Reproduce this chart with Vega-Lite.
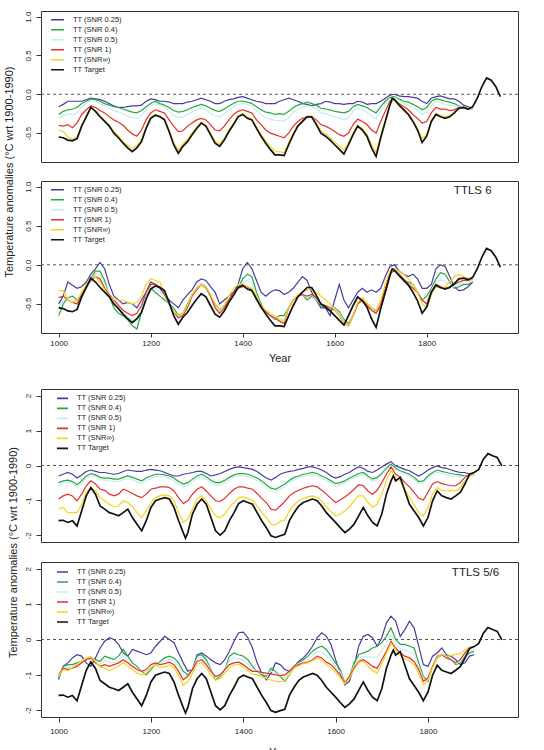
{
"$schema": "https://vega.github.io/schema/vega-lite/v6.json",
"padding": {"left": 2, "top": 10, "right": 2, "bottom": 0},
"datasets": {
"A1": [
{"yr":1000,"a":-0.16,"b":-0.26,"c":-0.30,"d":-0.40,"e":-0.46},
{"yr":1010,"a":-0.13,"b":-0.22,"c":-0.28,"d":-0.41,"e":-0.48},
{"yr":1020,"a":-0.09,"b":-0.20,"c":-0.25,"d":-0.39,"e":-0.55},
{"yr":1030,"a":-0.09,"b":-0.19,"c":-0.26,"d":-0.43,"e":-0.58},
{"yr":1040,"a":-0.09,"b":-0.17,"c":-0.24,"d":-0.37,"e":-0.55},
{"yr":1050,"a":-0.09,"b":-0.12,"c":-0.17,"d":-0.26,"e":-0.40},
{"yr":1060,"a":-0.07,"b":-0.09,"c":-0.12,"d":-0.20,"e":-0.28},
{"yr":1070,"a":-0.05,"b":-0.06,"c":-0.08,"d":-0.15,"e":-0.17},
{"yr":1080,"a":-0.06,"b":-0.07,"c":-0.09,"d":-0.17,"e":-0.21},
{"yr":1090,"a":-0.07,"b":-0.09,"c":-0.12,"d":-0.21,"e":-0.28},
{"yr":1100,"a":-0.09,"b":-0.12,"c":-0.15,"d":-0.24,"e":-0.34},
{"yr":1110,"a":-0.12,"b":-0.14,"c":-0.18,"d":-0.29,"e":-0.40},
{"yr":1120,"a":-0.15,"b":-0.16,"c":-0.21,"d":-0.33,"e":-0.48},
{"yr":1130,"a":-0.17,"b":-0.17,"c":-0.23,"d":-0.36,"e":-0.54},
{"yr":1140,"a":-0.17,"b":-0.19,"c":-0.25,"d":-0.40,"e":-0.61},
{"yr":1150,"a":-0.16,"b":-0.21,"c":-0.28,"d":-0.46,"e":-0.66},
{"yr":1160,"a":-0.15,"b":-0.23,"c":-0.30,"d":-0.51,"e":-0.70},
{"yr":1170,"a":-0.15,"b":-0.24,"c":-0.31,"d":-0.54,"e":-0.66},
{"yr":1180,"a":-0.14,"b":-0.21,"c":-0.27,"d":-0.46,"e":-0.58},
{"yr":1190,"a":-0.09,"b":-0.16,"c":-0.20,"d":-0.33,"e":-0.42},
{"yr":1200,"a":-0.06,"b":-0.12,"c":-0.15,"d":-0.24,"e":-0.30},
{"yr":1210,"a":-0.07,"b":-0.09,"c":-0.12,"d":-0.20,"e":-0.26},
{"yr":1220,"a":-0.09,"b":-0.12,"c":-0.14,"d":-0.22,"e":-0.28},
{"yr":1230,"a":-0.09,"b":-0.14,"c":-0.17,"d":-0.24,"e":-0.32},
{"yr":1240,"a":-0.10,"b":-0.17,"c":-0.22,"d":-0.33,"e":-0.46},
{"yr":1250,"a":-0.12,"b":-0.21,"c":-0.27,"d":-0.41,"e":-0.62},
{"yr":1260,"a":-0.12,"b":-0.23,"c":-0.30,"d":-0.48,"e":-0.72},
{"yr":1270,"a":-0.12,"b":-0.22,"c":-0.29,"d":-0.47,"e":-0.64},
{"yr":1280,"a":-0.10,"b":-0.20,"c":-0.26,"d":-0.41,"e":-0.58},
{"yr":1290,"a":-0.09,"b":-0.17,"c":-0.23,"d":-0.37,"e":-0.50},
{"yr":1300,"a":-0.07,"b":-0.15,"c":-0.20,"d":-0.33,"e":-0.42},
{"yr":1310,"a":-0.05,"b":-0.13,"c":-0.18,"d":-0.31,"e":-0.36},
{"yr":1320,"a":-0.07,"b":-0.15,"c":-0.20,"d":-0.33,"e":-0.40},
{"yr":1330,"a":-0.09,"b":-0.18,"c":-0.24,"d":-0.39,"e":-0.50},
{"yr":1340,"a":-0.12,"b":-0.21,"c":-0.28,"d":-0.46,"e":-0.60},
{"yr":1350,"a":-0.12,"b":-0.22,"c":-0.29,"d":-0.47,"e":-0.64},
{"yr":1360,"a":-0.09,"b":-0.19,"c":-0.25,"d":-0.41,"e":-0.56},
{"yr":1370,"a":-0.07,"b":-0.15,"c":-0.20,"d":-0.33,"e":-0.46},
{"yr":1380,"a":-0.06,"b":-0.12,"c":-0.16,"d":-0.26,"e":-0.37},
{"yr":1390,"a":-0.04,"b":-0.09,"c":-0.13,"d":-0.22,"e":-0.28},
{"yr":1400,"a":-0.03,"b":-0.09,"c":-0.12,"d":-0.20,"e":-0.25},
{"yr":1410,"a":-0.05,"b":-0.10,"c":-0.13,"d":-0.22,"e":-0.29},
{"yr":1420,"a":-0.07,"b":-0.12,"c":-0.15,"d":-0.24,"e":-0.32},
{"yr":1430,"a":-0.09,"b":-0.16,"c":-0.21,"d":-0.33,"e":-0.42},
{"yr":1440,"a":-0.10,"b":-0.20,"c":-0.26,"d":-0.39,"e":-0.52},
{"yr":1450,"a":-0.12,"b":-0.23,"c":-0.30,"d":-0.46,"e":-0.60},
{"yr":1460,"a":-0.12,"b":-0.24,"c":-0.32,"d":-0.50,"e":-0.67},
{"yr":1470,"a":-0.12,"b":-0.26,"c":-0.34,"d":-0.52,"e":-0.73},
{"yr":1480,"a":-0.09,"b":-0.25,"c":-0.34,"d":-0.54,"e":-0.74},
{"yr":1490,"a":-0.07,"b":-0.26,"c":-0.35,"d":-0.56,"e":-0.75},
{"yr":1500,"a":-0.05,"b":-0.22,"c":-0.30,"d":-0.50,"e":-0.62},
{"yr":1510,"a":-0.07,"b":-0.17,"c":-0.23,"d":-0.41,"e":-0.50},
{"yr":1520,"a":-0.09,"b":-0.14,"c":-0.19,"d":-0.35,"e":-0.40},
{"yr":1530,"a":-0.12,"b":-0.12,"c":-0.17,"d":-0.31,"e":-0.34},
{"yr":1540,"a":-0.13,"b":-0.10,"c":-0.15,"d":-0.29,"e":-0.28},
{"yr":1550,"a":-0.15,"b":-0.12,"c":-0.16,"d":-0.29,"e":-0.28},
{"yr":1560,"a":-0.13,"b":-0.14,"c":-0.19,"d":-0.33,"e":-0.37},
{"yr":1570,"a":-0.12,"b":-0.18,"c":-0.24,"d":-0.39,"e":-0.47},
{"yr":1580,"a":-0.09,"b":-0.19,"c":-0.25,"d":-0.41,"e":-0.51},
{"yr":1590,"a":-0.10,"b":-0.20,"c":-0.27,"d":-0.44,"e":-0.56},
{"yr":1600,"a":-0.12,"b":-0.22,"c":-0.29,"d":-0.48,"e":-0.61},
{"yr":1610,"a":-0.12,"b":-0.23,"c":-0.31,"d":-0.52,"e":-0.67},
{"yr":1620,"a":-0.13,"b":-0.24,"c":-0.33,"d":-0.54,"e":-0.72},
{"yr":1630,"a":-0.12,"b":-0.22,"c":-0.30,"d":-0.50,"e":-0.62},
{"yr":1640,"a":-0.12,"b":-0.16,"c":-0.22,"d":-0.39,"e":-0.50},
{"yr":1650,"a":-0.09,"b":-0.13,"c":-0.18,"d":-0.32,"e":-0.40},
{"yr":1660,"a":-0.10,"b":-0.15,"c":-0.20,"d":-0.35,"e":-0.44},
{"yr":1670,"a":-0.13,"b":-0.17,"c":-0.23,"d":-0.39,"e":-0.52},
{"yr":1680,"a":-0.12,"b":-0.21,"c":-0.28,"d":-0.46,"e":-0.65},
{"yr":1690,"a":-0.12,"b":-0.24,"c":-0.32,"d":-0.50,"e":-0.74},
{"yr":1700,"a":-0.09,"b":-0.16,"c":-0.22,"d":-0.35,"e":-0.53},
{"yr":1710,"a":-0.05,"b":-0.09,"c":-0.13,"d":-0.22,"e":-0.33},
{"yr":1720,"a":-0.01,"b":-0.04,"c":-0.06,"d":-0.09,"e":-0.13},
{"yr":1730,"a":0.00,"b":-0.03,"c":-0.04,"d":-0.07,"e":-0.06},
{"yr":1740,"a":-0.02,"b":-0.06,"c":-0.08,"d":-0.12,"e":-0.13},
{"yr":1750,"a":-0.03,"b":-0.09,"c":-0.12,"d":-0.16,"e":-0.19},
{"yr":1760,"a":-0.03,"b":-0.10,"c":-0.14,"d":-0.20,"e":-0.25},
{"yr":1770,"a":-0.04,"b":-0.13,"c":-0.18,"d":-0.26,"e":-0.34},
{"yr":1780,"a":-0.05,"b":-0.16,"c":-0.21,"d":-0.31,"e":-0.44},
{"yr":1790,"a":-0.09,"b":-0.20,"c":-0.26,"d":-0.37,"e":-0.57},
{"yr":1800,"a":-0.12,"b":-0.17,"c":-0.23,"d":-0.35,"e":-0.52},
{"yr":1810,"a":-0.05,"b":-0.09,"c":-0.14,"d":-0.24,"e":-0.34},
{"yr":1820,"a":-0.03,"b":-0.06,"c":-0.09,"d":-0.17,"e":-0.25},
{"yr":1830,"a":-0.02,"b":-0.07,"c":-0.11,"d":-0.19,"e":-0.27},
{"yr":1840,"a":-0.04,"b":-0.09,"c":-0.13,"d":-0.19,"e":-0.29},
{"yr":1850,"a":-0.06,"b":-0.10,"c":-0.14,"d":-0.21,"e":-0.27},
{"yr":1860,"a":-0.06,"b":-0.12,"c":-0.15,"d":-0.20,"e":-0.23},
{"yr":1870,"a":-0.09,"b":-0.15,"c":-0.16,"d":-0.17,"e":-0.18},
{"yr":1880,"a":-0.14,"b":-0.17,"c":-0.17,"d":-0.18,"e":-0.17},
{"yr":1890,"a":-0.16,"b":-0.19,"c":-0.19,"d":-0.19,"e":-0.19},
{"yr":1900,"a":-0.18,"b":-0.19,"c":-0.19,"d":-0.17,"e":-0.17}
],
"A2": [
{"yr":1000,"a":-0.50,"b":-0.65,"c":-0.55,"d":-0.42,"e":-0.33},
{"yr":1010,"a":-0.40,"b":-0.50,"c":-0.45,"d":-0.40,"e":-0.33},
{"yr":1020,"a":-0.22,"b":-0.42,"c":-0.43,"d":-0.45,"e":-0.45},
{"yr":1030,"a":-0.26,"b":-0.40,"c":-0.44,"d":-0.48,"e":-0.48},
{"yr":1040,"a":-0.30,"b":-0.45,"c":-0.47,"d":-0.50,"e":-0.45},
{"yr":1050,"a":-0.28,"b":-0.40,"c":-0.39,"d":-0.38,"e":-0.35},
{"yr":1060,"a":-0.22,"b":-0.30,"c":-0.29,"d":-0.28,"e":-0.25},
{"yr":1070,"a":-0.12,"b":-0.18,"c":-0.19,"d":-0.20,"e":-0.18},
{"yr":1080,"a":-0.05,"b":-0.08,"c":-0.12,"d":-0.15,"e":-0.15},
{"yr":1090,"a":0.03,"b":-0.08,"c":-0.13,"d":-0.18,"e":-0.22},
{"yr":1100,"a":-0.05,"b":-0.20,"c":-0.25,"d":-0.30,"e":-0.32},
{"yr":1110,"a":-0.25,"b":-0.40,"c":-0.39,"d":-0.38,"e":-0.40},
{"yr":1120,"a":-0.40,"b":-0.55,"c":-0.50,"d":-0.45,"e":-0.45},
{"yr":1130,"a":-0.45,"b":-0.62,"c":-0.57,"d":-0.52,"e":-0.45},
{"yr":1140,"a":-0.50,"b":-0.65,"c":-0.61,"d":-0.58,"e":-0.45},
{"yr":1150,"a":-0.48,"b":-0.70,"c":-0.66,"d":-0.62,"e":-0.48},
{"yr":1160,"a":-0.50,"b":-0.78,"c":-0.71,"d":-0.65,"e":-0.50},
{"yr":1170,"a":-0.55,"b":-0.82,"c":-0.72,"d":-0.62,"e":-0.48},
{"yr":1180,"a":-0.45,"b":-0.60,"c":-0.56,"d":-0.52,"e":-0.40},
{"yr":1190,"a":-0.35,"b":-0.40,"c":-0.38,"d":-0.35,"e":-0.25},
{"yr":1200,"a":-0.22,"b":-0.30,"c":-0.28,"d":-0.25,"e":-0.18},
{"yr":1210,"a":-0.25,"b":-0.35,"c":-0.30,"d":-0.25,"e":-0.20},
{"yr":1220,"a":-0.30,"b":-0.40,"c":-0.34,"d":-0.28,"e":-0.22},
{"yr":1230,"a":-0.38,"b":-0.45,"c":-0.42,"d":-0.38,"e":-0.35},
{"yr":1240,"a":-0.45,"b":-0.50,"c":-0.50,"d":-0.50,"e":-0.50},
{"yr":1250,"a":-0.50,"b":-0.55,"c":-0.58,"d":-0.60,"e":-0.60},
{"yr":1260,"a":-0.55,"b":-0.65,"c":-0.67,"d":-0.68,"e":-0.65},
{"yr":1270,"a":-0.45,"b":-0.62,"c":-0.64,"d":-0.65,"e":-0.62},
{"yr":1280,"a":-0.38,"b":-0.50,"c":-0.53,"d":-0.55,"e":-0.52},
{"yr":1290,"a":-0.32,"b":-0.38,"c":-0.39,"d":-0.40,"e":-0.38},
{"yr":1300,"a":-0.22,"b":-0.30,"c":-0.31,"d":-0.32,"e":-0.30},
{"yr":1310,"a":-0.18,"b":-0.25,"c":-0.25,"d":-0.25,"e":-0.25},
{"yr":1320,"a":-0.20,"b":-0.30,"c":-0.29,"d":-0.28,"e":-0.28},
{"yr":1330,"a":-0.28,"b":-0.40,"c":-0.40,"d":-0.40,"e":-0.38},
{"yr":1340,"a":-0.35,"b":-0.50,"c":-0.53,"d":-0.55,"e":-0.50},
{"yr":1350,"a":-0.50,"b":-0.58,"c":-0.60,"d":-0.62,"e":-0.58},
{"yr":1360,"a":-0.45,"b":-0.52,"c":-0.54,"d":-0.55,"e":-0.52},
{"yr":1370,"a":-0.40,"b":-0.45,"c":-0.45,"d":-0.45,"e":-0.40},
{"yr":1380,"a":-0.35,"b":-0.38,"c":-0.37,"d":-0.35,"e":-0.30},
{"yr":1390,"a":-0.25,"b":-0.30,"c":-0.30,"d":-0.30,"e":-0.25},
{"yr":1400,"a":-0.05,"b":-0.18,"c":-0.23,"d":-0.28,"e":-0.25},
{"yr":1410,"a":0.03,"b":-0.12,"c":-0.20,"d":-0.28,"e":-0.28},
{"yr":1420,"a":-0.05,"b":-0.15,"c":-0.24,"d":-0.32,"e":-0.30},
{"yr":1430,"a":-0.20,"b":-0.35,"c":-0.39,"d":-0.42,"e":-0.40},
{"yr":1440,"a":-0.35,"b":-0.50,"c":-0.53,"d":-0.55,"e":-0.52},
{"yr":1450,"a":-0.40,"b":-0.60,"c":-0.60,"d":-0.60,"e":-0.58},
{"yr":1460,"a":-0.35,"b":-0.65,"c":-0.65,"d":-0.65,"e":-0.62},
{"yr":1470,"a":-0.32,"b":-0.70,"c":-0.69,"d":-0.68,"e":-0.65},
{"yr":1480,"a":-0.33,"b":-0.65,"c":-0.69,"d":-0.72,"e":-0.70},
{"yr":1490,"a":-0.38,"b":-0.65,"c":-0.70,"d":-0.75,"e":-0.72},
{"yr":1500,"a":-0.35,"b":-0.55,"c":-0.55,"d":-0.55,"e":-0.55},
{"yr":1510,"a":-0.30,"b":-0.45,"c":-0.45,"d":-0.45,"e":-0.45},
{"yr":1520,"a":-0.22,"b":-0.40,"c":-0.40,"d":-0.40,"e":-0.38},
{"yr":1530,"a":-0.15,"b":-0.38,"c":-0.38,"d":-0.38,"e":-0.35},
{"yr":1540,"a":-0.20,"b":-0.45,"c":-0.42,"d":-0.40,"e":-0.32},
{"yr":1550,"a":-0.35,"b":-0.40,"c":-0.39,"d":-0.38,"e":-0.30},
{"yr":1560,"a":-0.45,"b":-0.45,"c":-0.44,"d":-0.42,"e":-0.35},
{"yr":1570,"a":-0.55,"b":-0.52,"c":-0.51,"d":-0.50,"e":-0.40},
{"yr":1580,"a":-0.55,"b":-0.55,"c":-0.53,"d":-0.52,"e":-0.45},
{"yr":1590,"a":-0.65,"b":-0.58,"c":-0.56,"d":-0.55,"e":-0.50},
{"yr":1600,"a":-0.45,"b":-0.55,"c":-0.56,"d":-0.58,"e":-0.58},
{"yr":1610,"a":-0.25,"b":-0.60,"c":-0.62,"d":-0.65,"e":-0.65},
{"yr":1620,"a":-0.45,"b":-0.70,"c":-0.72,"d":-0.75,"e":-0.75},
{"yr":1630,"a":-0.55,"b":-0.75,"c":-0.77,"d":-0.78,"e":-0.78},
{"yr":1640,"a":-0.45,"b":-0.65,"c":-0.65,"d":-0.65,"e":-0.65},
{"yr":1650,"a":-0.35,"b":-0.50,"c":-0.50,"d":-0.50,"e":-0.48},
{"yr":1660,"a":-0.30,"b":-0.45,"c":-0.45,"d":-0.45,"e":-0.42},
{"yr":1670,"a":-0.35,"b":-0.50,"c":-0.51,"d":-0.52,"e":-0.48},
{"yr":1680,"a":-0.32,"b":-0.55,"c":-0.56,"d":-0.58,"e":-0.55},
{"yr":1690,"a":-0.35,"b":-0.60,"c":-0.61,"d":-0.62,"e":-0.58},
{"yr":1700,"a":-0.30,"b":-0.55,"c":-0.52,"d":-0.50,"e":-0.45},
{"yr":1710,"a":-0.15,"b":-0.35,"c":-0.32,"d":-0.30,"e":-0.25},
{"yr":1720,"a":-0.02,"b":-0.12,"c":-0.11,"d":-0.10,"e":-0.08},
{"yr":1730,"a":0.00,"b":-0.05,"c":-0.06,"d":-0.08,"e":-0.05},
{"yr":1740,"a":-0.08,"b":-0.12,"c":-0.12,"d":-0.12,"e":-0.08},
{"yr":1750,"a":-0.12,"b":-0.20,"c":-0.19,"d":-0.18,"e":-0.12},
{"yr":1760,"a":-0.15,"b":-0.22,"c":-0.24,"d":-0.25,"e":-0.18},
{"yr":1770,"a":-0.12,"b":-0.25,"c":-0.28,"d":-0.30,"e":-0.25},
{"yr":1780,"a":-0.18,"b":-0.35,"c":-0.35,"d":-0.35,"e":-0.35},
{"yr":1790,"a":-0.30,"b":-0.45,"c":-0.45,"d":-0.45,"e":-0.50},
{"yr":1800,"a":-0.30,"b":-0.40,"c":-0.45,"d":-0.50,"e":-0.55},
{"yr":1810,"a":-0.25,"b":-0.30,"c":-0.33,"d":-0.35,"e":-0.38},
{"yr":1820,"a":-0.05,"b":-0.18,"c":-0.22,"d":-0.25,"e":-0.28},
{"yr":1830,"a":0.00,"b":-0.10,"c":-0.19,"d":-0.28,"e":-0.30},
{"yr":1840,"a":-0.02,"b":-0.12,"c":-0.21,"d":-0.30,"e":-0.28},
{"yr":1850,"a":-0.15,"b":-0.22,"c":-0.25,"d":-0.28,"e":-0.22},
{"yr":1860,"a":-0.28,"b":-0.30,"c":-0.28,"d":-0.25,"e":-0.15},
{"yr":1870,"a":-0.33,"b":-0.28,"c":-0.25,"d":-0.22,"e":-0.12},
{"yr":1880,"a":-0.32,"b":-0.25,"c":-0.22,"d":-0.20,"e":-0.15},
{"yr":1890,"a":-0.28,"b":-0.25,"c":-0.22,"d":-0.20,"e":-0.18},
{"yr":1900,"a":-0.22,"b":-0.22,"c":-0.20,"d":-0.18,"e":-0.18}
],
"B1": [
{"yr":1000,"a":-0.30,"b":-0.49,"c":-0.55,"d":-0.96,"e":-1.25},
{"yr":1010,"a":-0.25,"b":-0.44,"c":-0.50,"d":-0.87,"e":-1.20},
{"yr":1020,"a":-0.20,"b":-0.42,"c":-0.48,"d":-0.82,"e":-1.35},
{"yr":1030,"a":-0.25,"b":-0.46,"c":-0.52,"d":-0.87,"e":-1.35},
{"yr":1040,"a":-0.36,"b":-0.55,"c":-0.62,"d":-1.01,"e":-1.35},
{"yr":1050,"a":-0.27,"b":-0.44,"c":-0.50,"d":-0.82,"e":-1.11},
{"yr":1060,"a":-0.17,"b":-0.30,"c":-0.36,"d":-0.58,"e":-0.77},
{"yr":1070,"a":-0.13,"b":-0.23,"c":-0.28,"d":-0.44,"e":-0.63},
{"yr":1080,"a":-0.17,"b":-0.27,"c":-0.32,"d":-0.53,"e":-0.73},
{"yr":1090,"a":-0.20,"b":-0.34,"c":-0.40,"d":-0.68,"e":-0.92},
{"yr":1100,"a":-0.20,"b":-0.36,"c":-0.42,"d":-0.71,"e":-1.01},
{"yr":1110,"a":-0.23,"b":-0.36,"c":-0.44,"d":-0.82,"e":-1.11},
{"yr":1120,"a":-0.25,"b":-0.39,"c":-0.46,"d":-0.87,"e":-1.18},
{"yr":1130,"a":-0.23,"b":-0.39,"c":-0.45,"d":-0.82,"e":-1.16},
{"yr":1140,"a":-0.17,"b":-0.34,"c":-0.40,"d":-0.68,"e":-1.01},
{"yr":1150,"a":-0.13,"b":-0.30,"c":-0.37,"d":-0.73,"e":-1.06},
{"yr":1160,"a":-0.15,"b":-0.34,"c":-0.41,"d":-0.80,"e":-1.18},
{"yr":1170,"a":-0.17,"b":-0.39,"c":-0.46,"d":-0.87,"e":-1.35},
{"yr":1180,"a":-0.17,"b":-0.44,"c":-0.51,"d":-0.92,"e":-1.49},
{"yr":1190,"a":-0.13,"b":-0.36,"c":-0.43,"d":-0.82,"e":-1.30},
{"yr":1200,"a":-0.11,"b":-0.30,"c":-0.37,"d":-0.68,"e":-1.06},
{"yr":1210,"a":-0.13,"b":-0.25,"c":-0.32,"d":-0.65,"e":-0.92},
{"yr":1220,"a":-0.15,"b":-0.25,"c":-0.31,"d":-0.61,"e":-0.87},
{"yr":1230,"a":-0.20,"b":-0.27,"c":-0.33,"d":-0.61,"e":-0.84},
{"yr":1240,"a":-0.25,"b":-0.30,"c":-0.37,"d":-0.63,"e":-0.87},
{"yr":1250,"a":-0.30,"b":-0.36,"c":-0.43,"d":-0.73,"e":-1.01},
{"yr":1260,"a":-0.30,"b":-0.46,"c":-0.53,"d":-0.92,"e":-1.35},
{"yr":1270,"a":-0.25,"b":-0.53,"c":-0.61,"d":-1.09,"e":-1.63},
{"yr":1280,"a":-0.23,"b":-0.49,"c":-0.57,"d":-1.01,"e":-1.54},
{"yr":1290,"a":-0.20,"b":-0.39,"c":-0.46,"d":-0.82,"e":-1.25},
{"yr":1300,"a":-0.17,"b":-0.30,"c":-0.36,"d":-0.68,"e":-0.96},
{"yr":1310,"a":-0.17,"b":-0.25,"c":-0.31,"d":-0.61,"e":-0.87},
{"yr":1320,"a":-0.23,"b":-0.32,"c":-0.39,"d":-0.73,"e":-1.01},
{"yr":1330,"a":-0.30,"b":-0.42,"c":-0.49,"d":-0.87,"e":-1.25},
{"yr":1340,"a":-0.27,"b":-0.49,"c":-0.57,"d":-1.01,"e":-1.44},
{"yr":1350,"a":-0.23,"b":-0.49,"c":-0.57,"d":-1.03,"e":-1.49},
{"yr":1360,"a":-0.17,"b":-0.42,"c":-0.49,"d":-0.94,"e":-1.39},
{"yr":1370,"a":-0.11,"b":-0.34,"c":-0.41,"d":-0.80,"e":-1.20},
{"yr":1380,"a":-0.06,"b":-0.27,"c":-0.33,"d":-0.68,"e":-1.06},
{"yr":1390,"a":-0.04,"b":-0.23,"c":-0.29,"d":-0.61,"e":-0.92},
{"yr":1400,"a":-0.06,"b":-0.23,"c":-0.29,"d":-0.61,"e":-0.90},
{"yr":1410,"a":-0.08,"b":-0.25,"c":-0.31,"d":-0.65,"e":-0.94},
{"yr":1420,"a":-0.11,"b":-0.30,"c":-0.36,"d":-0.68,"e":-0.99},
{"yr":1430,"a":-0.17,"b":-0.36,"c":-0.43,"d":-0.80,"e":-1.16},
{"yr":1440,"a":-0.27,"b":-0.44,"c":-0.51,"d":-0.94,"e":-1.35},
{"yr":1450,"a":-0.36,"b":-0.55,"c":-0.62,"d":-1.06,"e":-1.49},
{"yr":1460,"a":-0.42,"b":-0.65,"c":-0.73,"d":-1.25,"e":-1.68},
{"yr":1470,"a":-0.34,"b":-0.68,"c":-0.76,"d":-1.28,"e":-1.70},
{"yr":1480,"a":-0.25,"b":-0.61,"c":-0.69,"d":-1.16,"e":-1.60},
{"yr":1490,"a":-0.20,"b":-0.53,"c":-0.60,"d":-1.03,"e":-1.56},
{"yr":1500,"a":-0.17,"b":-0.42,"c":-0.49,"d":-0.87,"e":-1.30},
{"yr":1510,"a":-0.15,"b":-0.34,"c":-0.41,"d":-0.77,"e":-1.13},
{"yr":1520,"a":-0.11,"b":-0.30,"c":-0.36,"d":-0.71,"e":-1.01},
{"yr":1530,"a":-0.08,"b":-0.25,"c":-0.31,"d":-0.65,"e":-0.94},
{"yr":1540,"a":-0.04,"b":-0.23,"c":-0.29,"d":-0.61,"e":-0.90},
{"yr":1550,"a":-0.04,"b":-0.20,"c":-0.26,"d":-0.58,"e":-0.87},
{"yr":1560,"a":-0.08,"b":-0.23,"c":-0.29,"d":-0.61,"e":-0.92},
{"yr":1570,"a":-0.13,"b":-0.30,"c":-0.36,"d":-0.71,"e":-1.03},
{"yr":1580,"a":-0.20,"b":-0.36,"c":-0.43,"d":-0.82,"e":-1.18},
{"yr":1590,"a":-0.30,"b":-0.44,"c":-0.51,"d":-0.94,"e":-1.32},
{"yr":1600,"a":-0.36,"b":-0.52,"c":-0.59,"d":-1.06,"e":-1.44},
{"yr":1610,"a":-0.32,"b":-0.49,"c":-0.56,"d":-0.99,"e":-1.39},
{"yr":1620,"a":-0.25,"b":-0.44,"c":-0.51,"d":-0.90,"e":-1.30},
{"yr":1630,"a":-0.20,"b":-0.36,"c":-0.43,"d":-0.80,"e":-1.18},
{"yr":1640,"a":-0.11,"b":-0.30,"c":-0.36,"d":-0.68,"e":-1.01},
{"yr":1650,"a":-0.04,"b":-0.23,"c":-0.29,"d":-0.55,"e":-0.87},
{"yr":1660,"a":-0.08,"b":-0.20,"c":-0.26,"d":-0.58,"e":-0.87},
{"yr":1670,"a":-0.17,"b":-0.30,"c":-0.36,"d":-0.73,"e":-1.06},
{"yr":1680,"a":-0.20,"b":-0.39,"c":-0.45,"d":-0.82,"e":-1.20},
{"yr":1690,"a":-0.13,"b":-0.34,"c":-0.40,"d":-0.71,"e":-1.11},
{"yr":1700,"a":-0.04,"b":-0.23,"c":-0.28,"d":-0.49,"e":-0.82},
{"yr":1710,"a":0.04,"b":-0.08,"c":-0.12,"d":-0.25,"e":-0.44},
{"yr":1720,"a":0.11,"b":0.04,"c":0.00,"d":-0.04,"e":-0.15},
{"yr":1730,"a":-0.01,"b":-0.08,"c":-0.12,"d":-0.25,"e":-0.34},
{"yr":1740,"a":-0.06,"b":-0.15,"c":-0.19,"d":-0.34,"e":-0.44},
{"yr":1750,"a":-0.11,"b":-0.20,"c":-0.25,"d":-0.49,"e":-0.68},
{"yr":1760,"a":-0.15,"b":-0.25,"c":-0.31,"d":-0.61,"e":-0.92},
{"yr":1770,"a":-0.23,"b":-0.34,"c":-0.40,"d":-0.77,"e":-1.13},
{"yr":1780,"a":-0.30,"b":-0.46,"c":-0.52,"d":-0.94,"e":-1.35},
{"yr":1790,"a":-0.23,"b":-0.44,"c":-0.50,"d":-0.99,"e":-1.44},
{"yr":1800,"a":-0.13,"b":-0.30,"c":-0.36,"d":-0.77,"e":-1.20},
{"yr":1810,"a":-0.06,"b":-0.20,"c":-0.26,"d":-0.53,"e":-0.82},
{"yr":1820,"a":-0.01,"b":-0.13,"c":-0.19,"d":-0.46,"e":-0.63},
{"yr":1830,"a":-0.06,"b":-0.17,"c":-0.23,"d":-0.52,"e":-0.71},
{"yr":1840,"a":-0.08,"b":-0.20,"c":-0.26,"d":-0.55,"e":-0.73},
{"yr":1850,"a":-0.13,"b":-0.23,"c":-0.29,"d":-0.58,"e":-0.71},
{"yr":1860,"a":-0.17,"b":-0.25,"c":-0.31,"d":-0.58,"e":-0.73},
{"yr":1870,"a":-0.20,"b":-0.27,"c":-0.32,"d":-0.49,"e":-0.63},
{"yr":1880,"a":-0.20,"b":-0.30,"c":-0.32,"d":-0.34,"e":-0.44},
{"yr":1890,"a":-0.25,"b":-0.30,"c":-0.30,"d":-0.25,"e":-0.30},
{"yr":1900,"a":-0.25,"b":-0.27,"c":-0.26,"d":-0.20,"e":-0.23}
],
"B2": [
{"yr":1000,"a":-1.09,"b":-1.14,"c":-1.05,"d":-1.00,"e":-1.02},
{"yr":1010,"a":-0.76,"b":-0.76,"c":-0.80,"d":-0.81,"e":-0.85},
{"yr":1020,"a":-0.66,"b":-0.71,"c":-0.80,"d":-0.85,"e":-0.88},
{"yr":1030,"a":-0.52,"b":-0.71,"c":-0.77,"d":-0.81,"e":-0.80},
{"yr":1040,"a":-0.43,"b":-0.66,"c":-0.72,"d":-0.76,"e":-0.70},
{"yr":1050,"a":-0.47,"b":-0.62,"c":-0.64,"d":-0.66,"e":-0.60},
{"yr":1060,"a":-0.66,"b":-0.57,"c":-0.57,"d":-0.57,"e":-0.52},
{"yr":1070,"a":-0.76,"b":-0.52,"c":-0.52,"d":-0.52,"e":-0.48},
{"yr":1080,"a":-0.52,"b":-0.57,"c":-0.62,"d":-0.66,"e":-0.62},
{"yr":1090,"a":-0.24,"b":-0.62,"c":-0.70,"d":-0.76,"e":-0.78},
{"yr":1100,"a":-0.05,"b":-0.47,"c":-0.60,"d":-0.71,"e":-0.80},
{"yr":1110,"a":0.05,"b":-0.52,"c":-0.65,"d":-0.76,"e":-0.88},
{"yr":1120,"a":0.00,"b":-0.57,"c":-0.65,"d":-0.71,"e":-0.82},
{"yr":1130,"a":-0.14,"b":-0.47,"c":-0.57,"d":-0.66,"e":-0.75},
{"yr":1140,"a":-0.38,"b":-0.28,"c":-0.45,"d":-0.57,"e":-0.65},
{"yr":1150,"a":-0.47,"b":-0.47,"c":-0.57,"d":-0.66,"e":-0.75},
{"yr":1160,"a":-0.28,"b":-0.66,"c":-0.72,"d":-0.76,"e":-0.85},
{"yr":1170,"a":-0.33,"b":-0.76,"c":-0.82,"d":-0.85,"e":-0.95},
{"yr":1180,"a":-0.38,"b":-0.90,"c":-0.90,"d":-0.90,"e":-1.00},
{"yr":1190,"a":-0.43,"b":-1.00,"c":-0.92,"d":-0.85,"e":-0.95},
{"yr":1200,"a":-0.38,"b":-0.85,"c":-0.78,"d":-0.71,"e":-0.80},
{"yr":1210,"a":-0.19,"b":-0.71,"c":-0.68,"d":-0.66,"e":-0.72},
{"yr":1220,"a":-0.05,"b":-0.62,"c":-0.66,"d":-0.71,"e":-0.78},
{"yr":1230,"a":0.09,"b":-0.52,"c":-0.60,"d":-0.68,"e":-0.78},
{"yr":1240,"a":0.00,"b":-0.47,"c":-0.56,"d":-0.64,"e":-0.72},
{"yr":1250,"a":-0.09,"b":-0.52,"c":-0.62,"d":-0.71,"e":-0.80},
{"yr":1260,"a":-0.38,"b":-0.66,"c":-0.78,"d":-0.90,"e":-1.00},
{"yr":1270,"a":-0.66,"b":-0.90,"c":-1.02,"d":-1.14,"e":-1.30},
{"yr":1280,"a":-0.90,"b":-1.00,"c":-1.02,"d":-1.04,"e":-1.18},
{"yr":1290,"a":-0.85,"b":-0.85,"c":-0.85,"d":-0.85,"e":-0.95},
{"yr":1300,"a":-0.43,"b":-0.47,"c":-0.55,"d":-0.62,"e":-0.70},
{"yr":1310,"a":-0.38,"b":-0.43,"c":-0.50,"d":-0.57,"e":-0.65},
{"yr":1320,"a":-0.47,"b":-0.57,"c":-0.64,"d":-0.71,"e":-0.80},
{"yr":1330,"a":-0.57,"b":-0.85,"c":-0.88,"d":-0.90,"e":-1.00},
{"yr":1340,"a":-0.66,"b":-1.14,"c":-1.09,"d":-1.04,"e":-1.15},
{"yr":1350,"a":-0.71,"b":-1.04,"c":-1.02,"d":-1.00,"e":-1.10},
{"yr":1360,"a":-0.57,"b":-0.85,"c":-0.85,"d":-0.85,"e":-0.95},
{"yr":1370,"a":-0.33,"b":-0.47,"c":-0.60,"d":-0.71,"e":-0.80},
{"yr":1380,"a":-0.05,"b":-0.38,"c":-0.52,"d":-0.66,"e":-0.72},
{"yr":1390,"a":0.19,"b":-0.43,"c":-0.54,"d":-0.64,"e":-0.70},
{"yr":1400,"a":0.21,"b":-0.47,"c":-0.59,"d":-0.71,"e":-0.78},
{"yr":1410,"a":0.05,"b":-0.57,"c":-0.69,"d":-0.81,"e":-0.88},
{"yr":1420,"a":-0.24,"b":-0.76,"c":-0.83,"d":-0.90,"e":-0.98},
{"yr":1430,"a":-0.66,"b":-0.90,"c":-0.90,"d":-0.90,"e":-1.00},
{"yr":1440,"a":-0.95,"b":-1.00,"c":-0.96,"d":-0.93,"e":-1.05},
{"yr":1450,"a":-1.14,"b":-1.04,"c":-1.00,"d":-0.95,"e":-1.10},
{"yr":1460,"a":-0.95,"b":-0.81,"c":-0.89,"d":-0.97,"e":-1.15},
{"yr":1470,"a":-0.66,"b":-0.90,"c":-0.95,"d":-1.00,"e":-1.18},
{"yr":1480,"a":-0.71,"b":-1.04,"c":-1.03,"d":-1.02,"e":-1.20},
{"yr":1490,"a":-0.85,"b":-1.18,"c":-1.09,"d":-1.00,"e":-1.15},
{"yr":1500,"a":-0.90,"b":-1.00,"c":-0.95,"d":-0.90,"e":-1.00},
{"yr":1510,"a":-0.76,"b":-0.76,"c":-0.76,"d":-0.76,"e":-0.82},
{"yr":1520,"a":-0.62,"b":-0.66,"c":-0.68,"d":-0.71,"e":-0.75},
{"yr":1530,"a":-0.52,"b":-0.57,"c":-0.62,"d":-0.66,"e":-0.68},
{"yr":1540,"a":-0.38,"b":-0.47,"c":-0.56,"d":-0.64,"e":-0.66},
{"yr":1550,"a":-0.19,"b":-0.33,"c":-0.45,"d":-0.57,"e":-0.60},
{"yr":1560,"a":0.05,"b":-0.24,"c":-0.35,"d":-0.47,"e":-0.52},
{"yr":1570,"a":0.19,"b":-0.19,"c":-0.36,"d":-0.52,"e":-0.58},
{"yr":1580,"a":0.09,"b":-0.28,"c":-0.46,"d":-0.64,"e":-0.72},
{"yr":1590,"a":-0.14,"b":-0.47,"c":-0.59,"d":-0.71,"e":-0.80},
{"yr":1600,"a":-0.57,"b":-0.66,"c":-0.76,"d":-0.85,"e":-0.92},
{"yr":1610,"a":-0.95,"b":-0.85,"c":-0.92,"d":-1.00,"e":-1.08},
{"yr":1620,"a":-1.28,"b":-1.23,"c":-1.23,"d":-1.23,"e":-1.25},
{"yr":1630,"a":-1.18,"b":-1.04,"c":-1.04,"d":-1.04,"e":-1.10},
{"yr":1640,"a":-0.76,"b":-0.66,"c":-0.74,"d":-0.81,"e":-0.85},
{"yr":1650,"a":-0.19,"b":-0.43,"c":-0.52,"d":-0.62,"e":-0.65},
{"yr":1660,"a":0.09,"b":-0.38,"c":-0.48,"d":-0.57,"e":-0.62},
{"yr":1670,"a":0.14,"b":-0.33,"c":-0.50,"d":-0.66,"e":-0.75},
{"yr":1680,"a":0.05,"b":-0.24,"c":-0.50,"d":-0.76,"e":-0.88},
{"yr":1690,"a":-0.19,"b":-0.19,"c":-0.50,"d":-0.81,"e":-0.95},
{"yr":1700,"a":0.05,"b":-0.09,"c":-0.33,"d":-0.57,"e":-0.68},
{"yr":1710,"a":0.47,"b":0.09,"c":-0.12,"d":-0.33,"e":-0.40},
{"yr":1720,"a":0.66,"b":0.33,"c":0.14,"d":-0.05,"e":-0.10},
{"yr":1730,"a":0.52,"b":0.00,"c":-0.12,"d":-0.24,"e":-0.30},
{"yr":1740,"a":0.09,"b":-0.14,"c":-0.26,"d":-0.38,"e":-0.45},
{"yr":1750,"a":0.28,"b":-0.14,"c":-0.30,"d":-0.47,"e":-0.55},
{"yr":1760,"a":0.52,"b":-0.19,"c":-0.36,"d":-0.52,"e":-0.60},
{"yr":1770,"a":0.33,"b":-0.24,"c":-0.43,"d":-0.62,"e":-0.72},
{"yr":1780,"a":-0.19,"b":-0.66,"c":-0.76,"d":-0.85,"e":-0.95},
{"yr":1790,"a":-0.71,"b":-1.04,"c":-1.11,"d":-1.18,"e":-1.28},
{"yr":1800,"a":-0.76,"b":-1.18,"c":-1.14,"d":-1.09,"e":-1.15},
{"yr":1810,"a":-0.47,"b":-0.76,"c":-0.76,"d":-0.76,"e":-0.80},
{"yr":1820,"a":-0.38,"b":-0.52,"c":-0.50,"d":-0.47,"e":-0.50},
{"yr":1830,"a":-0.24,"b":-0.43,"c":-0.43,"d":-0.43,"e":-0.42},
{"yr":1840,"a":-0.43,"b":-0.47,"c":-0.50,"d":-0.52,"e":-0.48},
{"yr":1850,"a":-0.47,"b":-0.57,"c":-0.57,"d":-0.57,"e":-0.45},
{"yr":1860,"a":-0.57,"b":-0.71,"c":-0.68,"d":-0.66,"e":-0.42},
{"yr":1870,"a":-0.71,"b":-0.66,"c":-0.62,"d":-0.57,"e":-0.40},
{"yr":1880,"a":-0.66,"b":-0.47,"c":-0.43,"d":-0.38,"e":-0.30},
{"yr":1890,"a":-0.47,"b":-0.38,"c":-0.31,"d":-0.24,"e":-0.22},
{"yr":1900,"a":-0.43,"b":-0.33,"c":-0.26,"d":-0.19,"e":-0.20}
],
"TA": [
{"yr":1000,"t":-0.55},{"yr":1010,"t":-0.56},{"yr":1020,"t":-0.59},{"yr":1030,"t":-0.60},{"yr":1040,"t":-0.57},{"yr":1050,"t":-0.41},{"yr":1060,"t":-0.29},{"yr":1070,"t":-0.17},{"yr":1080,"t":-0.22},{"yr":1090,"t":-0.29},
{"yr":1100,"t":-0.35},{"yr":1110,"t":-0.41},{"yr":1120,"t":-0.50},{"yr":1130,"t":-0.56},{"yr":1140,"t":-0.63},{"yr":1150,"t":-0.69},{"yr":1160,"t":-0.74},{"yr":1170,"t":-0.69},{"yr":1180,"t":-0.61},{"yr":1190,"t":-0.44},
{"yr":1200,"t":-0.31},{"yr":1210,"t":-0.27},{"yr":1220,"t":-0.29},{"yr":1230,"t":-0.33},{"yr":1240,"t":-0.48},{"yr":1250,"t":-0.65},{"yr":1260,"t":-0.76},{"yr":1270,"t":-0.67},{"yr":1280,"t":-0.61},{"yr":1290,"t":-0.52},
{"yr":1300,"t":-0.44},{"yr":1310,"t":-0.37},{"yr":1320,"t":-0.41},{"yr":1330,"t":-0.52},{"yr":1340,"t":-0.63},{"yr":1350,"t":-0.67},{"yr":1360,"t":-0.59},{"yr":1370,"t":-0.48},{"yr":1380,"t":-0.39},{"yr":1390,"t":-0.29},
{"yr":1400,"t":-0.26},{"yr":1410,"t":-0.31},{"yr":1420,"t":-0.33},{"yr":1430,"t":-0.44},{"yr":1440,"t":-0.54},{"yr":1450,"t":-0.63},{"yr":1460,"t":-0.71},{"yr":1470,"t":-0.78},{"yr":1480,"t":-0.78},{"yr":1490,"t":-0.79},
{"yr":1500,"t":-0.65},{"yr":1510,"t":-0.52},{"yr":1520,"t":-0.41},{"yr":1530,"t":-0.35},{"yr":1540,"t":-0.29},{"yr":1550,"t":-0.29},{"yr":1560,"t":-0.39},{"yr":1570,"t":-0.50},{"yr":1580,"t":-0.54},{"yr":1590,"t":-0.59},
{"yr":1600,"t":-0.65},{"yr":1610,"t":-0.71},{"yr":1620,"t":-0.77},{"yr":1630,"t":-0.65},{"yr":1640,"t":-0.52},{"yr":1650,"t":-0.41},{"yr":1660,"t":-0.46},{"yr":1670,"t":-0.54},{"yr":1680,"t":-0.69},{"yr":1690,"t":-0.80},
{"yr":1700,"t":-0.56},{"yr":1710,"t":-0.35},{"yr":1720,"t":-0.14},{"yr":1725,"t":-0.05},{"yr":1730,"t":-0.07},{"yr":1740,"t":-0.14},{"yr":1750,"t":-0.20},{"yr":1760,"t":-0.26},{"yr":1770,"t":-0.35},{"yr":1780,"t":-0.46},{"yr":1790,"t":-0.62},
{"yr":1800,"t":-0.54},{"yr":1810,"t":-0.35},{"yr":1820,"t":-0.26},{"yr":1830,"t":-0.29},{"yr":1840,"t":-0.31},{"yr":1850,"t":-0.29},{"yr":1860,"t":-0.24},{"yr":1870,"t":-0.18},{"yr":1880,"t":-0.17},{"yr":1890,"t":-0.19},
{"yr":1900,"t":-0.16},{"yr":1910,"t":-0.05},{"yr":1920,"t":0.10},{"yr":1930,"t":0.21},{"yr":1940,"t":0.18},{"yr":1950,"t":0.10},{"yr":1960,"t":-0.03}
],
"TB": [
{"yr":1000,"t":-1.58},{"yr":1010,"t":-1.57},{"yr":1020,"t":-1.63},{"yr":1030,"t":-1.58},{"yr":1040,"t":-1.73},{"yr":1050,"t":-1.30},{"yr":1060,"t":-0.87},{"yr":1070,"t":-0.63},{"yr":1080,"t":-0.82},{"yr":1090,"t":-1.16},
{"yr":1100,"t":-1.25},{"yr":1110,"t":-1.35},{"yr":1120,"t":-1.39},{"yr":1130,"t":-1.44},{"yr":1140,"t":-1.35},{"yr":1150,"t":-1.25},{"yr":1160,"t":-1.49},{"yr":1170,"t":-1.68},{"yr":1180,"t":-1.87},{"yr":1190,"t":-1.58},
{"yr":1200,"t":-1.20},{"yr":1210,"t":-1.01},{"yr":1220,"t":-0.96},{"yr":1230,"t":-0.92},{"yr":1240,"t":-0.96},{"yr":1250,"t":-1.20},{"yr":1260,"t":-1.58},{"yr":1270,"t":-1.92},{"yr":1275,"t":-2.08},{"yr":1280,"t":-1.92},{"yr":1290,"t":-1.39},
{"yr":1300,"t":-1.11},{"yr":1310,"t":-0.96},{"yr":1320,"t":-1.11},{"yr":1330,"t":-1.49},{"yr":1340,"t":-1.87},{"yr":1350,"t":-1.99},{"yr":1360,"t":-1.87},{"yr":1370,"t":-1.58},{"yr":1380,"t":-1.35},{"yr":1390,"t":-1.09},
{"yr":1400,"t":-1.01},{"yr":1410,"t":-1.06},{"yr":1420,"t":-1.11},{"yr":1430,"t":-1.35},{"yr":1440,"t":-1.58},{"yr":1450,"t":-1.78},{"yr":1460,"t":-2.01},{"yr":1470,"t":-2.06},{"yr":1480,"t":-2.01},{"yr":1490,"t":-1.97},
{"yr":1500,"t":-1.58},{"yr":1510,"t":-1.35},{"yr":1520,"t":-1.16},{"yr":1530,"t":-1.06},{"yr":1540,"t":-1.01},{"yr":1550,"t":-0.96},{"yr":1560,"t":-1.01},{"yr":1570,"t":-1.16},{"yr":1580,"t":-1.35},{"yr":1590,"t":-1.49},
{"yr":1600,"t":-1.63},{"yr":1610,"t":-1.78},{"yr":1620,"t":-1.92},{"yr":1630,"t":-1.82},{"yr":1640,"t":-1.68},{"yr":1650,"t":-1.44},{"yr":1660,"t":-1.20},{"yr":1670,"t":-1.44},{"yr":1680,"t":-1.63},{"yr":1690,"t":-1.73},
{"yr":1700,"t":-1.39},{"yr":1710,"t":-0.82},{"yr":1720,"t":-0.44},{"yr":1725,"t":-0.30},{"yr":1730,"t":-0.44},{"yr":1740,"t":-0.34},{"yr":1750,"t":-0.73},{"yr":1760,"t":-1.11},{"yr":1770,"t":-1.30},{"yr":1780,"t":-1.49},{"yr":1790,"t":-1.73},
{"yr":1800,"t":-1.49},{"yr":1810,"t":-1.01},{"yr":1820,"t":-0.73},{"yr":1830,"t":-0.87},{"yr":1840,"t":-0.92},{"yr":1850,"t":-0.96},{"yr":1860,"t":-0.87},{"yr":1870,"t":-0.77},{"yr":1880,"t":-0.53},{"yr":1890,"t":-0.25},
{"yr":1900,"t":-0.20},{"yr":1910,"t":-0.11},{"yr":1920,"t":0.18},{"yr":1930,"t":0.34},{"yr":1940,"t":0.28},{"yr":1950,"t":0.23},{"yr":1960,"t":-0.01}
]
},
"align": "none",
"vconcat": [
{
"bounds": "flush",
"spacing": 19,
"resolve": {"scale": {"color": "independent"}},
"vconcat": [
{
"width": 477, "height": 151,
"layer": [
{"data": {"values": [{}]}, "mark": {"type": "rule", "strokeDash": [3, 3], "color": "#555", "strokeWidth": 1},
 "encoding": {"y": {"datum": 0, "type": "quantitative", "scale": {"domain": [-0.872, 1.072], "nice": false, "zero": false}, "axis": {"values": [-0.5, 0, 0.5, 1], "labelExpr": "datum.value < 0 ? '-' + format(-datum.value, '.1f') : format(datum.value, '.1f')", "title": "Temperature anomalies (°C wrt 1900-1990)", "titleY": 160.5, "titlePadding": 10}}}},
{"data": {"name": "A1"}, "transform": [{"fold": ["a", "b", "c", "d", "e"], "as": ["s", "v"]}],
 "mark": {"type": "line", "strokeWidth": 1.2, "clip": true},
 "encoding": {
  "x": {"field": "yr", "type": "quantitative", "scale": {"domain": [961.6, 1998.4], "nice": false, "zero": false}, "axis": null},
  "y": {"field": "v", "type": "quantitative", "axis": {"values": [-0.5, 0, 0.5, 1], "labelExpr": "datum.value < 0 ? '-' + format(-datum.value, '.1f') : format(datum.value, '.1f')", "title": "Temperature anomalies (°C wrt 1900-1990)", "titleY": 160.5, "titlePadding": 10}},
  "color": {"field": "s", "type": "nominal", "scale": {"domain": ["a", "b", "c", "d", "e", "t"], "range": ["#473c9b", "#27a83f", "#c6ecef", "#e3302a", "#f5d41c", "#111111"]},
   "legend": {"title": null, "orient": "none", "legendX": 9, "legendY": 4, "symbolType": "stroke", "symbolSize": 169, "symbolStrokeWidth": 1.6, "labelFontSize": 7.5, "labelColor": "#222", "labelOffset": 8, "rowPadding": 0, "clipHeight": 9.6,
    "labelExpr": "datum.label == 'a' ? 'TT (SNR 0.25)' : datum.label == 'b' ? 'TT (SNR 0.4)' : datum.label == 'c' ? 'TT (SNR 0.5)' : datum.label == 'd' ? 'TT (SNR 1)' : datum.label == 'e' ? 'TT (SNR∞)' : 'TT Target'"}}
 }},
{"data": {"name": "TA"}, "mark": {"type": "line", "strokeWidth": 1.7, "clip": true},
 "encoding": {
  "x": {"field": "yr", "type": "quantitative", "axis": null},
  "y": {"field": "t", "type": "quantitative", "axis": {"values": [-0.5, 0, 0.5, 1], "labelExpr": "datum.value < 0 ? '-' + format(-datum.value, '.1f') : format(datum.value, '.1f')", "title": "Temperature anomalies (°C wrt 1900-1990)", "titleY": 160.5, "titlePadding": 10}},
  "color": {"datum": "t", "type": "nominal"}
 }}
]
},
{
"width": 477, "height": 152,
"layer": [
{"data": {"values": [{}]}, "mark": {"type": "rule", "strokeDash": [3, 3], "color": "#555", "strokeWidth": 1},
 "encoding": {"y": {"datum": 0, "type": "quantitative", "scale": {"domain": [-0.872, 1.072], "nice": false, "zero": false}, "axis": {"values": [-0.5, 0, 0.5, 1], "labelExpr": "datum.value < 0 ? '-' + format(-datum.value, '.1f') : format(datum.value, '.1f')", "title": null}}}},
{"data": {"name": "A2"}, "transform": [{"fold": ["a", "b", "c", "d", "e"], "as": ["s", "v"]}],
 "mark": {"type": "line", "strokeWidth": 1.2, "clip": true},
 "encoding": {
  "x": {"field": "yr", "type": "quantitative", "scale": {"domain": [961.6, 1998.4], "nice": false, "zero": false}, "axis": {"values": [1000, 1200, 1400, 1600, 1800], "format": "d", "title": "Year", "tickSize": 4, "labelPadding": 2, "titlePadding": 5}},
  "y": {"field": "v", "type": "quantitative", "axis": {"values": [-0.5, 0, 0.5, 1], "labelExpr": "datum.value < 0 ? '-' + format(-datum.value, '.1f') : format(datum.value, '.1f')", "title": null}},
  "color": {"field": "s", "type": "nominal", "scale": {"domain": ["a", "b", "c", "d", "e", "t"], "range": ["#473c9b", "#27a83f", "#c6ecef", "#e3302a", "#f5d41c", "#111111"]},
   "legend": {"title": null, "orient": "none", "legendX": 9, "legendY": 4, "symbolType": "stroke", "symbolSize": 169, "symbolStrokeWidth": 1.6, "labelFontSize": 7.5, "labelColor": "#222", "labelOffset": 8, "rowPadding": 0, "clipHeight": 9.6,
    "labelExpr": "datum.label == 'a' ? 'TT (SNR 0.25)' : datum.label == 'b' ? 'TT (SNR 0.4)' : datum.label == 'c' ? 'TT (SNR 0.5)' : datum.label == 'd' ? 'TT (SNR 1)' : datum.label == 'e' ? 'TT (SNR∞)' : 'TT Target'"}}
 }},
{"data": {"name": "TA"}, "mark": {"type": "line", "strokeWidth": 1.7, "clip": true},
 "encoding": {
  "x": {"field": "yr", "type": "quantitative", "axis": {"values": [1000, 1200, 1400, 1600, 1800], "format": "d", "title": "Year", "tickSize": 4, "labelPadding": 2, "titlePadding": 5}},
  "y": {"field": "t", "type": "quantitative", "axis": {"values": [-0.5, 0, 0.5, 1], "labelExpr": "datum.value < 0 ? '-' + format(-datum.value, '.1f') : format(datum.value, '.1f')", "title": null}},
  "color": {"datum": "t", "type": "nominal"}
 }},
{"data": {"values": [{}]}, "mark": {"type": "text", "fontSize": 11.5, "color": "#222", "align": "center", "baseline": "middle"},
 "encoding": {
  "x": {"datum": 1900, "type": "quantitative", "axis": {"values": [1000, 1200, 1400, 1600, 1800], "format": "d", "title": "Year", "tickSize": 4, "labelPadding": 2, "titlePadding": 5}},
  "y": {"datum": 0.94, "type": "quantitative", "axis": {"values": [-0.5, 0, 0.5, 1], "labelExpr": "datum.value < 0 ? '-' + format(-datum.value, '.1f') : format(datum.value, '.1f')", "title": null}},
  "text": {"value": "TTLS 6"}
 }}
]
}
]
},
{
"bounds": "flush",
"spacing": 20,
"resolve": {"scale": {"color": "independent"}},
"vconcat": [
{
"width": 477, "height": 153,
"layer": [
{"data": {"values": [{}]}, "mark": {"type": "rule", "strokeDash": [3, 3], "color": "#555", "strokeWidth": 1},
 "encoding": {"y": {"datum": 0, "type": "quantitative", "scale": {"domain": [-2.19, 2.19], "nice": false, "zero": false}, "axis": {"values": [-2, -1, 0, 1, 2], "labelExpr": "datum.value < 0 ? '-' + format(-datum.value, 'd') : format(datum.value, 'd')", "title": "Temperature anomalies (°C wrt 1900-1990)", "titleY": 163, "titlePadding": 6}}}},
{"data": {"name": "B1"}, "transform": [{"fold": ["a", "b", "c", "d", "e"], "as": ["s", "v"]}],
 "mark": {"type": "line", "strokeWidth": 1.2, "clip": true},
 "encoding": {
  "x": {"field": "yr", "type": "quantitative", "scale": {"domain": [962, 1995], "nice": false, "zero": false}, "axis": null},
  "y": {"field": "v", "type": "quantitative", "axis": {"values": [-2, -1, 0, 1, 2], "labelExpr": "datum.value < 0 ? '-' + format(-datum.value, 'd') : format(datum.value, 'd')", "title": "Temperature anomalies (°C wrt 1900-1990)", "titleY": 163, "titlePadding": 6}},
  "color": {"field": "s", "type": "nominal", "scale": {"domain": ["a", "b", "c", "d", "e", "t"], "range": ["#473c9b", "#27a83f", "#c6ecef", "#e3302a", "#f5d41c", "#111111"]},
   "legend": {"title": null, "orient": "none", "legendX": 15, "legendY": 4.5, "symbolType": "stroke", "symbolSize": 121, "symbolStrokeWidth": 1.6, "labelFontSize": 7.5, "labelColor": "#222", "labelOffset": 8, "rowPadding": 0, "clipHeight": 9.8,
    "labelExpr": "datum.label == 'a' ? 'TT (SNR 0.25)' : datum.label == 'b' ? 'TT (SNR 0.4)' : datum.label == 'c' ? 'TT (SNR 0.5)' : datum.label == 'd' ? 'TT (SNR 1)' : datum.label == 'e' ? 'TT (SNR∞)' : 'TT Target'"}}
 }},
{"data": {"name": "TB"}, "mark": {"type": "line", "strokeWidth": 1.7, "clip": true},
 "encoding": {
  "x": {"field": "yr", "type": "quantitative", "axis": null},
  "y": {"field": "t", "type": "quantitative", "axis": {"values": [-2, -1, 0, 1, 2], "labelExpr": "datum.value < 0 ? '-' + format(-datum.value, 'd') : format(datum.value, 'd')", "title": "Temperature anomalies (°C wrt 1900-1990)", "titleY": 163, "titlePadding": 6}},
  "color": {"datum": "t", "type": "nominal"}
 }}
]
},
{
"width": 477, "height": 155,
"layer": [
{"data": {"values": [{}]}, "mark": {"type": "rule", "strokeDash": [3, 3], "color": "#555", "strokeWidth": 1},
 "encoding": {"y": {"datum": 0, "type": "quantitative", "scale": {"domain": [-2.19, 2.19], "nice": false, "zero": false}, "axis": {"values": [-2, -1, 0, 1, 2], "labelExpr": "datum.value < 0 ? '-' + format(-datum.value, 'd') : format(datum.value, 'd')", "title": null}}}},
{"data": {"name": "B2"}, "transform": [{"fold": ["a", "b", "c", "d", "e"], "as": ["s", "v"]}],
 "mark": {"type": "line", "strokeWidth": 1.2, "clip": true},
 "encoding": {
  "x": {"field": "yr", "type": "quantitative", "scale": {"domain": [962, 1995], "nice": false, "zero": false}, "axis": {"values": [1000, 1200, 1400, 1600, 1800], "format": "d", "title": "Year", "tickSize": 5, "labelPadding": 5, "titlePadding": 11}},
  "y": {"field": "v", "type": "quantitative", "axis": {"values": [-2, -1, 0, 1, 2], "labelExpr": "datum.value < 0 ? '-' + format(-datum.value, 'd') : format(datum.value, 'd')", "title": null}},
  "color": {"field": "s", "type": "nominal", "scale": {"domain": ["a", "b", "c", "d", "e", "t"], "range": ["#473c9b", "#27a83f", "#c6ecef", "#e3302a", "#f5d41c", "#111111"]},
   "legend": {"title": null, "orient": "none", "legendX": 15, "legendY": 5, "symbolType": "stroke", "symbolSize": 121, "symbolStrokeWidth": 1.6, "labelFontSize": 7.5, "labelColor": "#222", "labelOffset": 8, "rowPadding": 0, "clipHeight": 9.9,
    "labelExpr": "datum.label == 'a' ? 'TT (SNR 0.25)' : datum.label == 'b' ? 'TT (SNR 0.4)' : datum.label == 'c' ? 'TT (SNR 0.5)' : datum.label == 'd' ? 'TT (SNR 1)' : datum.label == 'e' ? 'TT (SNR∞)' : 'TT Target'"}}
 }},
{"data": {"name": "TB"}, "mark": {"type": "line", "strokeWidth": 1.7, "clip": true},
 "encoding": {
  "x": {"field": "yr", "type": "quantitative", "axis": {"values": [1000, 1200, 1400, 1600, 1800], "format": "d", "title": "Year", "tickSize": 5, "labelPadding": 5, "titlePadding": 11}},
  "y": {"field": "t", "type": "quantitative", "axis": {"values": [-2, -1, 0, 1, 2], "labelExpr": "datum.value < 0 ? '-' + format(-datum.value, 'd') : format(datum.value, 'd')", "title": null}},
  "color": {"datum": "t", "type": "nominal"}
 }},
{"data": {"values": [{}]}, "mark": {"type": "text", "fontSize": 11.5, "color": "#222", "align": "center", "baseline": "middle"},
 "encoding": {
  "x": {"datum": 1903, "type": "quantitative", "axis": {"values": [1000, 1200, 1400, 1600, 1800], "format": "d", "title": "Year", "tickSize": 5, "labelPadding": 5, "titlePadding": 11}},
  "y": {"datum": 1.89, "type": "quantitative", "axis": {"values": [-2, -1, 0, 1, 2], "labelExpr": "datum.value < 0 ? '-' + format(-datum.value, 'd') : format(datum.value, 'd')", "title": null}},
  "text": {"value": "TTLS 5/6"}
 }}
]
}
]
}
],
"spacing": 24,
"resolve": {"scale": {"color": "independent"}},
"config": {
 "font": "Liberation Sans",
 "view": {"stroke": "#333", "strokeWidth": 1},
 "axis": {"grid": false, "domain": false, "tickColor": "#333", "tickSize": 5, "labelFontSize": 8, "labelColor": "#222", "titleFontSize": 11, "titleFontWeight": "normal", "titleColor": "#222", "labelFont": "Liberation Sans", "titleFont": "Liberation Sans"},
 "axisY": {"labelAngle": -90, "labelAlign": "center", "labelBaseline": "bottom", "labelPadding": 4},
 "legend": {"labelFont": "Liberation Sans"}
}
}
